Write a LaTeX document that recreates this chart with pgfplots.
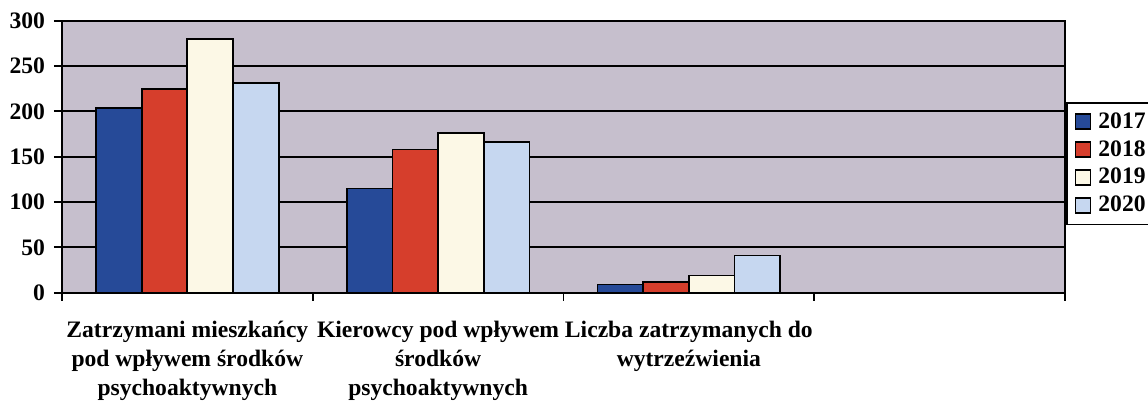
\documentclass[border=0pt]{standalone}
\usepackage{pgfplots}
\pgfplotsset{compat=1.18}
\usepackage{fontspec}
\setmainfont{Liberation Serif}
\definecolor{bgcol}{RGB}{198,191,205}
\definecolor{cA}{RGB}{38,74,152}
\definecolor{cB}{RGB}{214,62,44}
\definecolor{cC}{RGB}{252,248,230}
\definecolor{cD}{RGB}{198,215,240}
\begin{document}
\begin{tikzpicture}
\begin{axis}[name=ax, at={(0,0)}, anchor=south west,
  scale only axis, width=501.5pt, height=136pt,
  xmin=-0.5, xmax=3.5, ymin=0, ymax=300,
  ybar=0pt, bar width=22.85pt,
  ytick={0,50,...,300},
  ymajorgrids, major grid style={black, line width=0.9pt},
  xtick={-0.5,0.5,1.5,2.5,3.5}, xticklabels={,,,,},
  extra x ticks={0,1,2},
  extra x tick labels={{Zatrzymani mieszkańcy\\pod wpływem środków\\psychoaktywnych},{Kierowcy pod wpływem\\środków\\psychoaktywnych},{Liczba zatrzymanych do\\wytrzeźwienia}},
  extra x tick style={major tick length=0pt, grid=none},
  xtick pos=bottom, ytick pos=left,
  tick align=outside, major tick length=4pt,
  tick style={black, line width=0.9pt},
  axis line style={black, line width=1pt},
  axis background/.style={fill=bgcol},
  ticklabel style={font=\bfseries\fontsize{11.8}{14.5}\selectfont},
  xticklabel style={align=center, yshift=-10.5pt},
  yticklabel style={xshift=-1pt},
  /pgf/number format/assume math mode=true,
  legend style={at={(1.001,0.701)}, anchor=north west, draw=black, line width=0.8pt,
    fill=white, inner xsep=4pt, inner ysep=2.8pt, row sep=0.6pt,
    font=\bfseries\fontsize{11.8}{13.75}\selectfont,
    cells={anchor=west},
    /tikz/every odd column/.append style={column sep=1.5pt}},
  legend image code/.code={\draw[#1, line width=0.8pt] (0pt,-3.75pt) rectangle (7.5pt,3.75pt);},
]
\addplot[fill=cA, draw=black, line width=0.9pt] coordinates {(0,204) (1,115) (2,9)};
\addplot[fill=cB, draw=black, line width=0.9pt] coordinates {(0,225) (1,158) (2,12)};
\addplot[fill=cC, draw=black, line width=0.9pt] coordinates {(0,280) (1,176) (2,19)};
\addplot[fill=cD, draw=black, line width=0.9pt] coordinates {(0,231) (1,166) (2,41)};
\legend{2017,2018,2019,2020}
\end{axis}
\pgfresetboundingbox
\path ([xshift=-31pt,yshift=-54.65pt]ax.south west) rectangle ([xshift=543pt,yshift=146.35pt]ax.south west);
\end{tikzpicture}
\end{document}
